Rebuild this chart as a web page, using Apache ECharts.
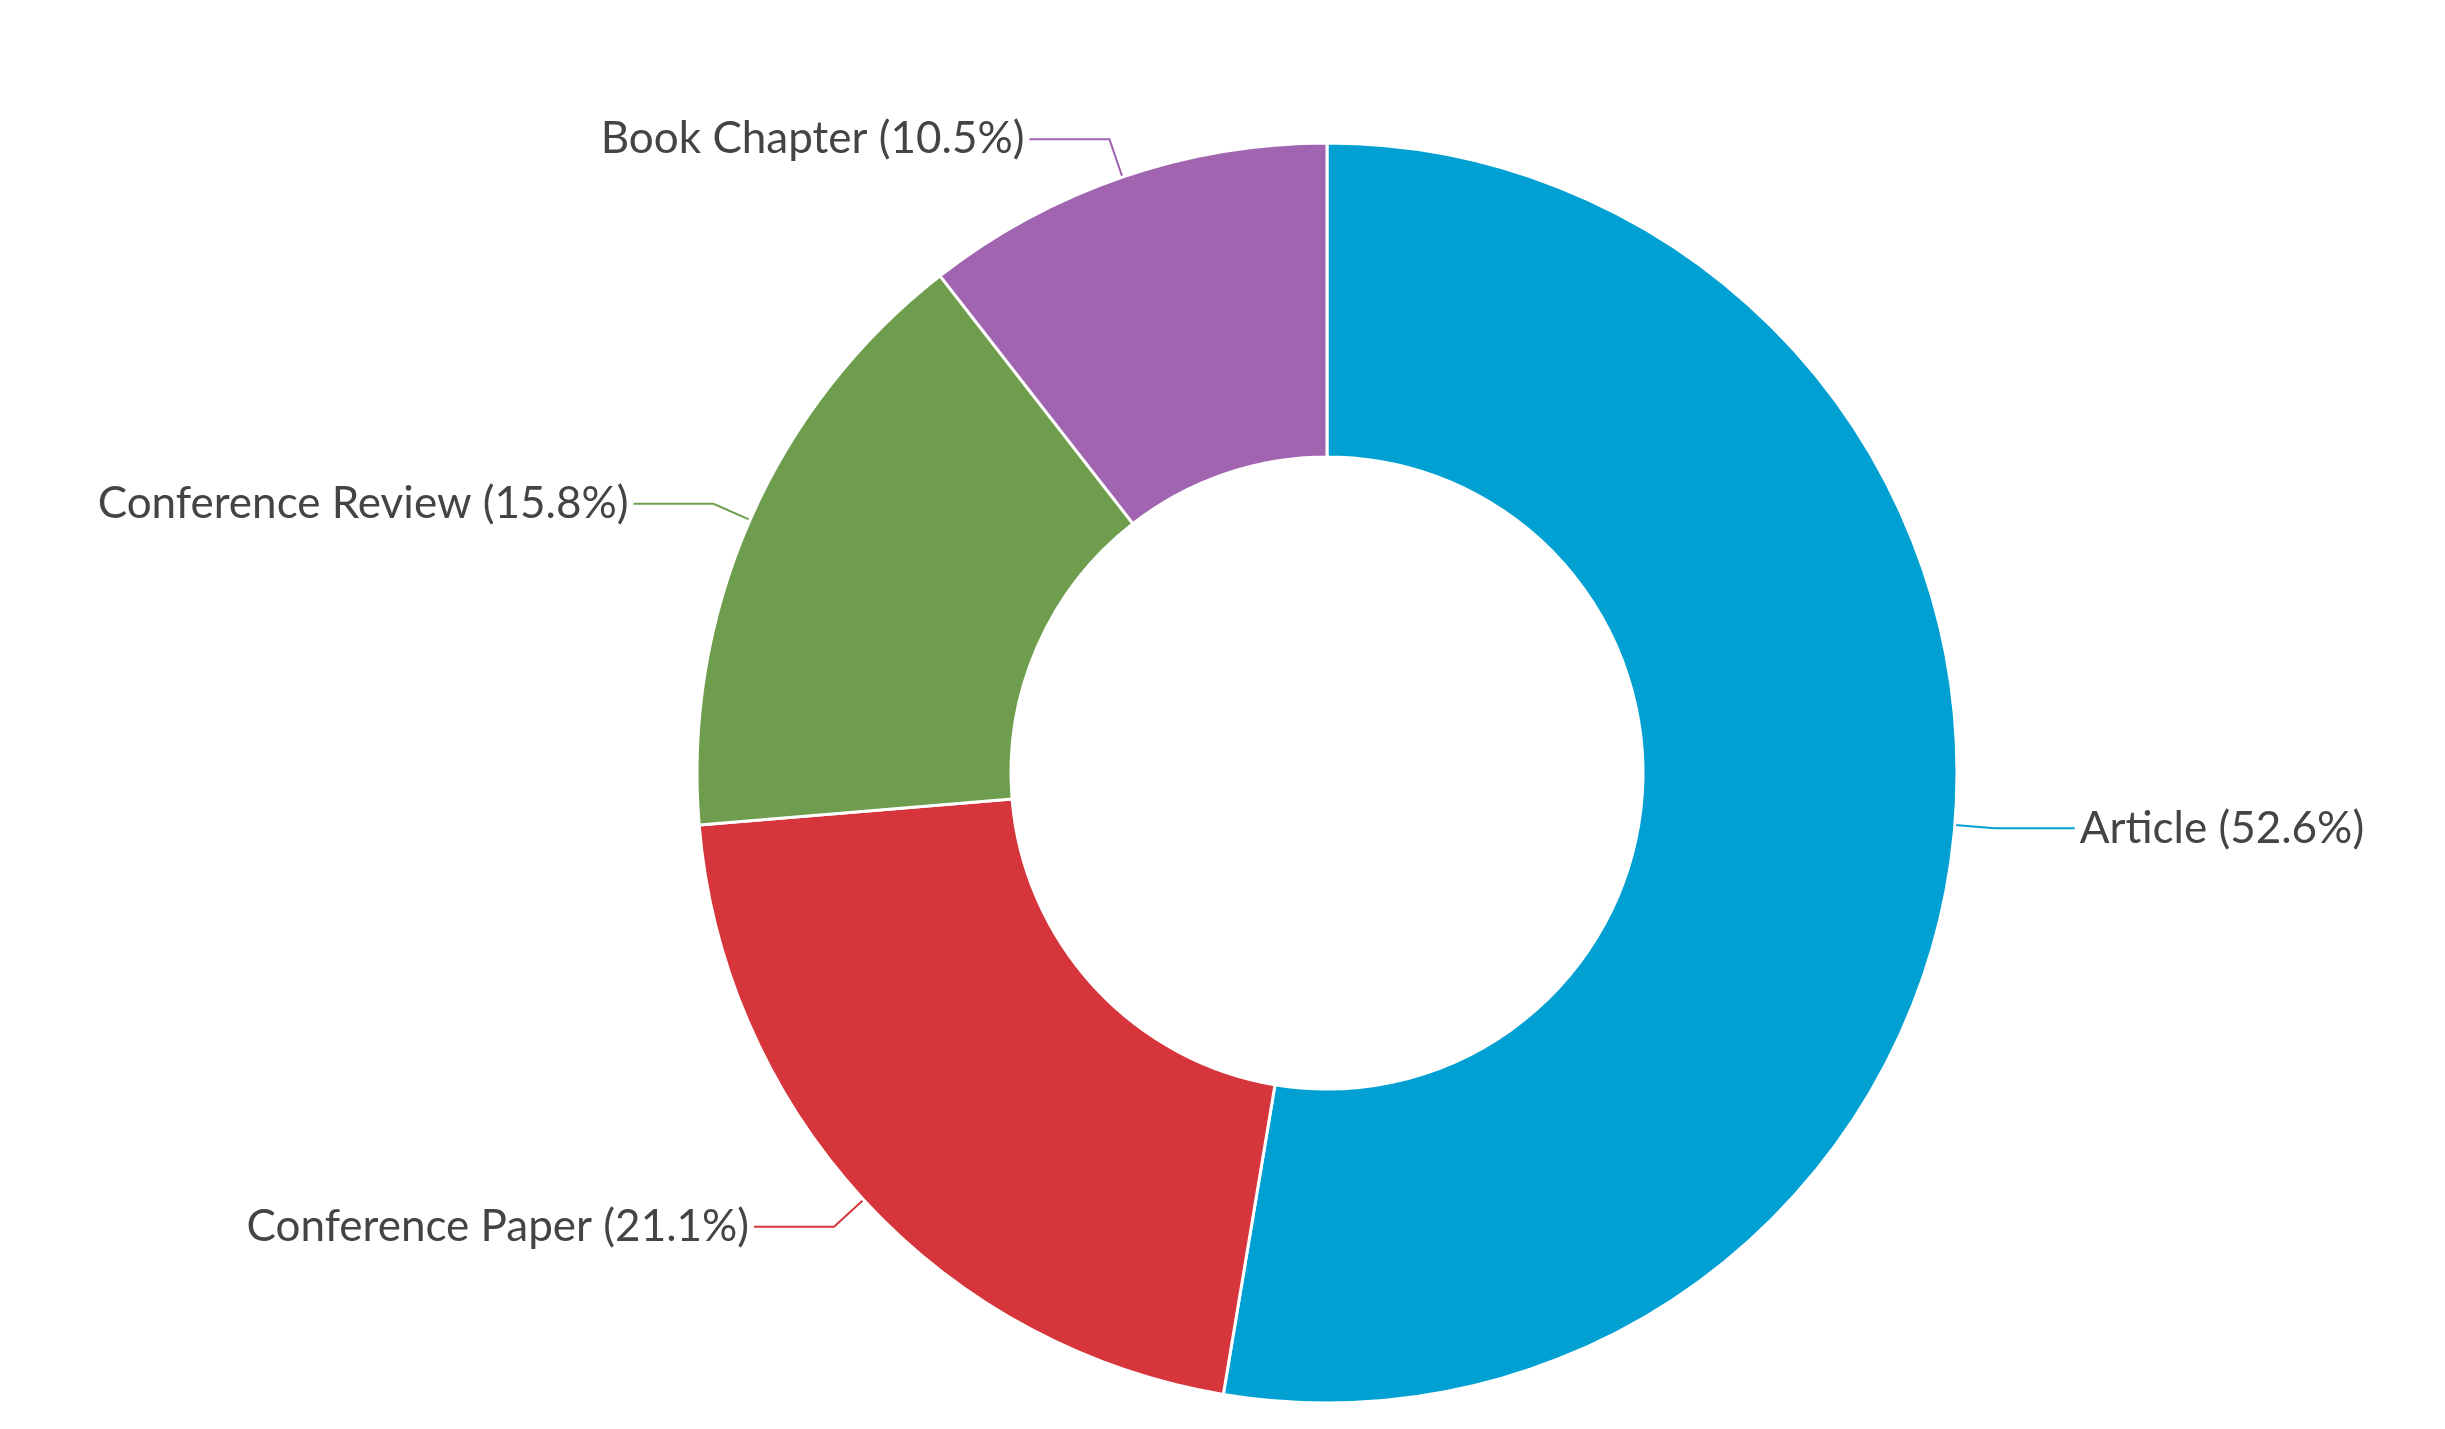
<!DOCTYPE html>
<html><head><meta charset="utf-8">
<script src="https://cdn.jsdelivr.net/npm/echarts@6/dist/echarts.min.js"></script>
<style>html,body{margin:0;padding:0;background:#fff}#c{width:2445px;height:1429px}</style>
</head><body><div id="c"></div>
<script>
const categories = ["Article", "Conference Paper", "Conference Review", "Book Chapter"];
const counts = [10, 4, 3, 2];
const percents = ["52.6%", "21.1%", "15.8%", "10.5%"];
const colors = ["#00A0D2", "#D6353B", "#6E9E4D", "#A064B0"];
const chart = echarts.init(document.getElementById('c'));
chart.setOption({
  animation:false,
  series:[{
    type:'pie',
    center:[1327,773],
    radius:[316,630],
    startAngle:90,
    clockwise:true,
    itemStyle:{borderColor:'#fff',borderWidth:3},
    label:{
      formatter:(p)=>categories[p.dataIndex]+' ('+percents[p.dataIndex]+')',
      fontFamily:'Lato',fontSize:44,color:'#444'
    },
    labelLine:{length:40,length2:80,lineStyle:{width:2}},
    data:categories.map((c,i)=>({name:c,value:counts[i],itemStyle:{color:colors[i]}}))
  }]
});
</script></body></html>
